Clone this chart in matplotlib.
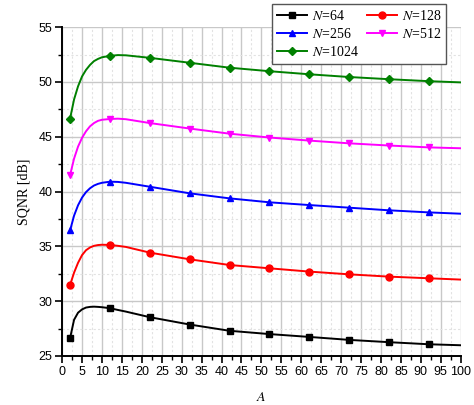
import matplotlib
matplotlib.use('Agg')
import matplotlib.pyplot as plt
from matplotlib.ticker import MultipleLocator

# -----------------------------
# data
# -----------------------------
A = [2, 3, 4, 5, 6, 7, 8, 9, 10, 12, 14, 16, 22, 32, 42, 52, 62, 72, 82, 92, 100]
A_markers = [2, 12, 22, 32, 42, 52, 62, 72, 82, 92]

sqnr_64 = [26.62, 28.3, 28.95, 29.25, 29.42, 29.48, 29.5, 29.48, 29.45, 29.36, 29.2, 29.05,
           28.54, 27.87, 27.3, 27.0, 26.74, 26.47, 26.26, 26.07, 25.98]
sqnr_128 = [31.48, 32.6, 33.5, 34.2, 34.65, 34.9, 35.05, 35.12, 35.15, 35.13, 35.05, 34.95,
            34.43, 33.82, 33.3, 33.0, 32.7, 32.45, 32.24, 32.09, 31.97]
sqnr_256 = [36.45, 37.8, 38.75, 39.45, 39.95, 40.3, 40.55, 40.7, 40.8, 40.9, 40.88, 40.8,
            40.44, 39.84, 39.38, 39.02, 38.77, 38.53, 38.29, 38.1, 37.98]
sqnr_512 = [41.5, 43.0, 44.1, 44.9, 45.5, 45.95, 46.25, 46.45, 46.55, 46.62, 46.65, 46.6,
            46.25, 45.75, 45.28, 44.93, 44.65, 44.4, 44.2, 44.03, 43.95]
sqnr_1024 = [46.65, 48.4, 49.6, 50.5, 51.1, 51.55, 51.9, 52.1, 52.25, 52.38, 52.45, 52.43,
             52.2, 51.75, 51.3, 50.98, 50.7, 50.45, 50.25, 50.07, 49.96]

series = [
    ('64', sqnr_64, 'black', 's'),
    ('128', sqnr_128, '#ff0000', 'o'),
    ('256', sqnr_256, '#0000ff', '^'),
    ('512', sqnr_512, '#ff00ff', 'v'),
    ('1024', sqnr_1024, '#008000', 'D'),
]

plt.rcParams['mathtext.fontset'] = 'stix'

fig = plt.figure(figsize=(4.74, 4.05), dpi=100)
ax = fig.add_axes([0.131, 0.121, 0.841, 0.812])

mark_idx = [A.index(a) for a in A_markers]
handles = {}
for n, vals, col, mk in series:
    ms = 4.3 if mk == 'D' else 5.0
    h, = ax.plot(A, vals, color=col, lw=1.4, marker=mk, ms=ms,
                 markevery=mark_idx, label='$N$=' + n, zorder=3)
    handles[n] = h

ax.set_xlim(0, 100)
ax.set_ylim(25, 55)
ax.xaxis.set_major_locator(MultipleLocator(5))
ax.xaxis.set_minor_locator(MultipleLocator(2.5))
ax.yaxis.set_major_locator(MultipleLocator(5))
ax.yaxis.set_minor_locator(MultipleLocator(2.5))

ax.grid(True, which='major', color='#c8c8c8', lw=1.0, ls='-')
ax.grid(True, which='minor', color='#e2e2e2', lw=0.8, ls=(0, (2, 2)))
ax.set_axisbelow(True)

for s in ['top', 'right']:
    ax.spines[s].set_visible(False)
for s in ['left', 'bottom']:
    ax.spines[s].set_linewidth(1.4)

ax.tick_params(which='major', direction='out', length=5, width=1.2,
               labelsize=9, pad=2)
ax.tick_params(which='minor', direction='out', length=3, width=1.0)
for lab in ax.get_xticklabels() + ax.get_yticklabels():
    lab.set_fontfamily('Liberation Sans')

ax.set_ylabel('SQNR [dB]', fontfamily='Liberation Serif', fontsize=10, labelpad=6)
ax.set_xlabel('$A$', fontsize=10, labelpad=9)

order = ['64', '256', '1024', '128', '512']
leg = fig.legend([handles[k] for k in order], [handles[k].get_label() for k in order],
                 ncol=2, loc='upper right', bbox_to_anchor=(0.941, 0.99),
                 bbox_transform=fig.transFigure, borderaxespad=0,
                 prop={'family': 'Liberation Serif', 'size': 10},
                 handlelength=2.2, handletextpad=0.3, columnspacing=0.6,
                 labelspacing=0.3, borderpad=0.35, fancybox=False,
                 framealpha=1, edgecolor='#555555')
leg.get_frame().set_linewidth(1.0)

fig.savefig('out.png', dpi=100)
